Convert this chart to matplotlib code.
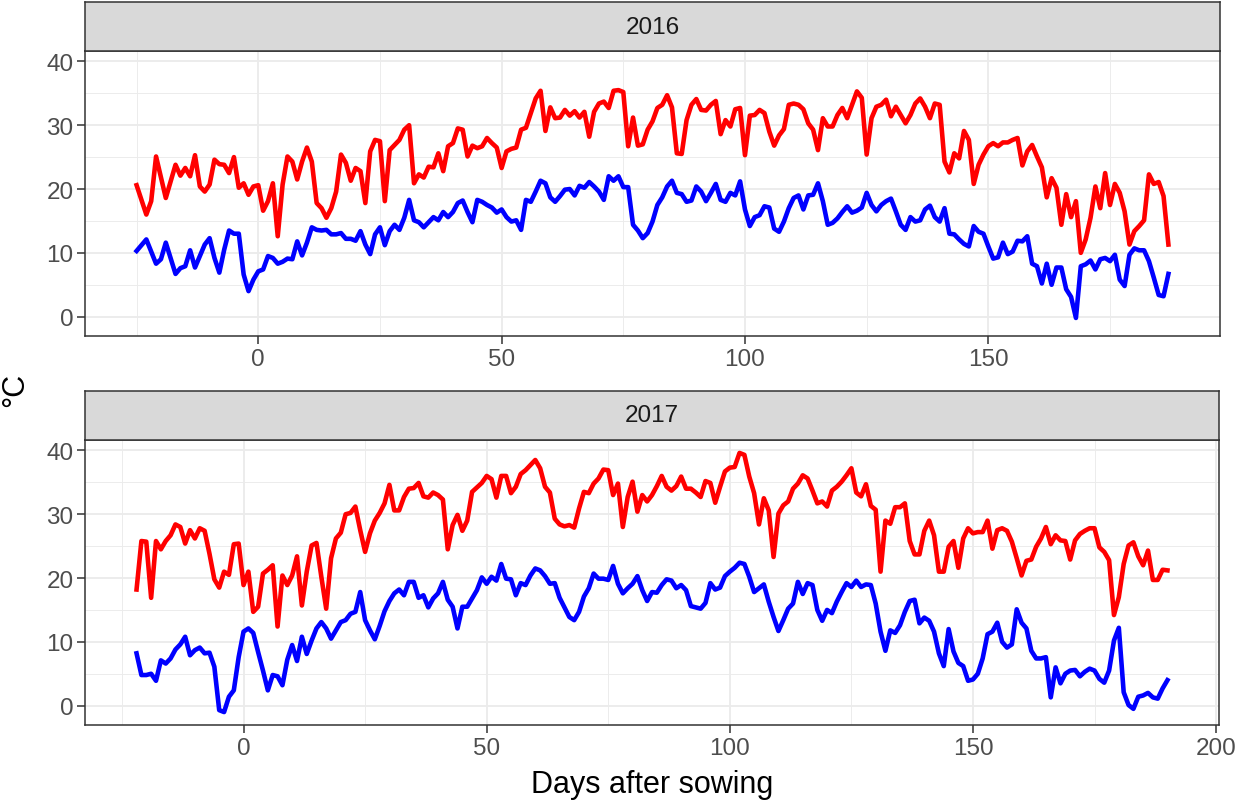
import matplotlib
matplotlib.use("Agg")
import matplotlib.pyplot as plt
from matplotlib.ticker import MultipleLocator

plt.rcParams['font.family'] = ['Liberation Sans', 'DejaVu Sans']

# 2016 season: days after sowing, daily max (red) and min (blue) temperature
days16_max = [-25, -23, -22, -21, -19, -17, -16, -15, -14, -13, -12, -11, -10, -9, -8, -7, -6, -5, -4, -3,
              -2, -1, 0, 1, 2, 3, 4, 5, 6, 7, 8, 9, 10, 11, 12, 13, 14, 15, 16, 17, 18, 19, 20, 21, 22, 23,
              24, 25, 26, 27, 28, 29, 30, 31, 32, 33, 34, 35, 36, 37, 38, 39, 40, 41, 42, 43, 44, 45, 46,
              47, 48, 49, 50, 51, 52, 53, 54, 55, 56, 57, 58, 59, 60, 61, 62, 63, 64, 65, 66, 67, 68, 69,
              70, 71, 72, 73, 74, 75, 76, 77, 78, 79, 80, 81, 82, 83, 84, 85, 86, 87, 88, 89, 90, 91, 92,
              93, 94, 95, 96, 97, 98, 99, 100, 101, 102, 103, 104, 105, 106, 107, 108, 109, 110, 111, 112,
              113, 114, 115, 116, 117, 118, 119, 120, 121, 122, 123, 124, 125, 126, 127, 128, 129, 130,
              131, 132, 133, 134, 135, 136, 137, 138, 139, 140, 141, 142, 143, 144, 145, 146, 147, 148,
              149, 150, 151, 152, 153, 154, 155, 156, 157, 158, 159, 160, 161, 162, 163, 164, 165, 166,
              167, 168, 169, 170, 171, 172, 173, 174, 175, 176, 177, 178, 179, 180, 181, 182, 183, 184,
              185, 186, 187]
tmax16 = [20.6, 16.0, 18.1, 25.1, 18.6, 23.8, 22.1, 23.3, 22.0, 25.3, 20.4, 19.6, 20.7, 24.6, 23.9, 23.8,
          22.5, 25.0, 20.2, 20.9, 19.1, 20.4, 20.6, 16.6, 18.1, 20.9, 12.6, 20.7, 25.1, 24.3, 21.5, 24.3,
          26.5, 24.3, 17.8, 17.0, 15.5, 17.0, 19.6, 25.4, 24.1, 21.3, 23.3, 22.8, 17.8, 25.9, 27.7, 27.5,
          18.1, 26.1, 26.9, 27.7, 29.3, 30.0, 20.9, 22.3, 21.8, 23.5, 23.4, 25.6, 22.8, 26.7, 27.2, 29.5,
          29.3, 25.1, 26.8, 26.4, 26.7, 28.0, 27.2, 26.5, 23.3, 25.9, 26.3, 26.5, 29.3, 29.6, 31.9, 34.2,
          35.4, 29.1, 32.8, 31.1, 31.2, 32.4, 31.5, 32.2, 31.2, 32.1, 28.2, 32.1, 33.4, 33.7, 32.7, 35.4,
          35.5, 35.2, 26.7, 31.2, 26.8, 27.0, 29.3, 30.6, 32.7, 33.2, 34.7, 32.8, 25.6, 25.5, 30.8, 33.2,
          34.1, 32.4, 32.3, 33.2, 33.8, 28.6, 30.8, 29.8, 32.5, 32.7, 25.3, 31.5, 31.6, 32.4, 31.9, 29.0,
          26.8, 28.4, 29.4, 33.2, 33.4, 33.2, 32.5, 30.3, 29.3, 26.1, 31.1, 29.8, 29.8, 31.6, 32.7, 31.1,
          33.2, 35.3, 34.3, 25.4, 31.1, 32.9, 33.2, 34.0, 31.4, 32.9, 31.6, 30.3, 31.6, 33.4, 34.2, 32.9,
          31.1, 33.4, 33.2, 24.3, 22.6, 25.6, 24.8, 29.1, 27.7, 20.8, 23.8, 25.4, 26.7, 27.2, 26.7, 27.3,
          27.3, 27.7, 28.0, 23.7, 25.9, 26.9, 25.1, 23.4, 18.7, 21.7, 20.2, 14.4, 19.2, 15.6, 18.1, 10.0,
          12.1, 15.5, 20.4, 17.0, 22.5, 17.5, 20.8, 19.4, 16.5, 11.3, 13.4, 14.2, 15.1, 22.3, 20.8, 21.1,
          18.9, 11.3]

days16_min = [-25, -23, -21, -20, -19, -17, -16, -15, -14, -13, -12, -11, -10, -9, -8, -7, -6, -5, -4, -3,
              -2, -1, 0, 1, 2, 3, 4, 5, 6, 7, 8, 9, 10, 11, 12, 13, 14, 15, 16, 17, 18, 19, 20, 21, 22, 23,
              24, 25, 26, 27, 28, 29, 30, 31, 32, 33, 34, 35, 36, 37, 38, 39, 40, 41, 42, 43, 44, 45, 46,
              47, 48, 49, 50, 51, 52, 53, 54, 55, 56, 57, 58, 59, 60, 61, 62, 63, 64, 65, 66, 67, 68, 69,
              70, 71, 72, 73, 74, 75, 76, 77, 78, 79, 80, 81, 82, 83, 84, 85, 86, 87, 88, 89, 90, 91, 92,
              93, 94, 95, 96, 97, 98, 99, 100, 101, 102, 103, 104, 105, 106, 107, 108, 109, 110, 111, 112,
              113, 114, 115, 116, 117, 118, 119, 120, 121, 122, 123, 124, 125, 126, 127, 128, 129, 130,
              131, 132, 133, 134, 135, 136, 137, 138, 139, 140, 141, 142, 143, 144, 145, 146, 147, 148,
              149, 150, 151, 152, 153, 154, 155, 156, 157, 158, 159, 160, 161, 162, 163, 164, 165, 166,
              167, 168, 169, 170, 171, 172, 173, 174, 175, 176, 177, 178, 179, 180, 181, 182, 183, 184,
              185, 186, 187]
tmin16 = [10.3, 12.1, 8.3, 9.0, 11.6, 6.7, 7.6, 7.9, 10.4, 7.7, 9.5, 11.3, 12.3, 9.2, 6.9, 10.5, 13.5,
          13.0, 13.0, 6.6, 4.0, 5.8, 7.1, 7.4, 9.5, 9.2, 8.3, 8.6, 9.1, 9.0, 11.8, 9.6, 11.6, 14.0, 13.6,
          13.5, 13.6, 12.9, 12.9, 13.1, 12.2, 12.2, 11.9, 13.4, 11.3, 9.8, 12.9, 14.0, 11.2, 13.4, 14.4,
          13.6, 15.5, 18.3, 15.1, 14.8, 14.0, 14.8, 15.6, 15.1, 16.4, 15.6, 16.4, 17.8, 18.2, 16.4, 14.8,
          18.3, 18.0, 17.5, 17.1, 16.3, 16.8, 15.6, 14.9, 15.1, 13.6, 18.3, 18.0, 19.6, 21.3, 20.9, 18.7,
          18.0, 18.9, 19.9, 20.0, 19.0, 20.5, 20.2, 21.1, 20.4, 19.6, 18.3, 22.0, 21.3, 22.0, 20.3, 20.3,
          14.4, 13.5, 12.3, 13.1, 14.9, 17.5, 18.7, 20.4, 21.3, 19.4, 19.2, 18.0, 18.2, 20.4, 19.6, 18.1,
          19.4, 20.8, 18.3, 18.0, 19.4, 19.0, 21.2, 16.8, 14.2, 15.6, 15.9, 17.3, 17.1, 13.8, 13.3, 14.9,
          17.0, 18.6, 19.0, 16.8, 19.0, 19.1, 20.9, 18.1, 14.4, 14.7, 15.4, 16.4, 17.3, 16.3, 16.6, 17.1,
          19.4, 17.5, 16.5, 17.5, 18.1, 18.5, 16.5, 14.4, 13.6, 15.6, 14.9, 15.1, 16.8, 17.4, 15.6, 14.9,
          17.0, 13.0, 12.9, 12.1, 11.4, 11.0, 14.2, 13.3, 13.0, 11.0, 9.1, 9.3, 11.6, 9.8, 10.2, 11.9,
          11.8, 12.6, 8.3, 7.9, 5.2, 8.3, 5.0, 7.7, 7.7, 4.3, 3.1, -0.2, 7.9, 8.2, 8.8, 7.4, 9.0, 9.2, 8.7,
          9.7, 5.8, 4.8, 9.7, 10.7, 10.4, 10.4, 8.7, 6.1, 3.4, 3.2, 6.7]

# 2017 season
days17 = list(range(-22, 191))
tmax17 = [18.2, 25.8, 25.7, 16.9, 25.8, 24.5, 25.8, 26.7, 28.4, 28.0, 25.4, 27.5, 26.2, 27.8, 27.4, 23.8,
          19.8, 18.5, 21.0, 20.5, 25.3, 25.4, 18.9, 21.0, 14.7, 15.5, 20.7, 21.3, 22.0, 12.4, 20.4, 18.9,
          20.4, 23.4, 15.7, 21.0, 25.1, 25.5, 20.2, 15.2, 23.1, 26.2, 27.1, 30.0, 30.2, 31.2, 27.5, 24.1,
          27.0, 29.0, 30.2, 31.7, 34.6, 30.6, 30.6, 32.7, 34.0, 34.1, 34.9, 32.8, 32.6, 33.4, 33.0, 32.3,
          24.5, 28.3, 29.9, 27.4, 29.0, 33.5, 34.2, 34.9, 36.0, 35.5, 32.6, 36.0, 36.0, 33.3, 34.3, 36.3,
          36.9, 37.7, 38.5, 37.2, 34.3, 33.4, 29.3, 28.4, 28.1, 28.3, 27.9, 30.9, 33.5, 33.3, 34.8, 35.6,
          37.0, 36.9, 33.0, 34.8, 28.0, 32.7, 35.1, 30.4, 33.0, 32.0, 33.0, 34.4, 36.0, 34.3, 33.7, 34.4,
          35.9, 34.0, 34.0, 33.4, 32.7, 35.2, 34.9, 31.8, 34.3, 36.7, 37.3, 37.4, 39.6, 39.3, 35.9, 33.3,
          28.4, 32.5, 30.6, 23.3, 30.1, 31.4, 32.0, 34.0, 34.8, 36.1, 35.6, 33.7, 31.7, 32.0, 31.2, 33.7,
          34.3, 35.1, 36.1, 37.2, 33.4, 32.8, 34.7, 31.3, 30.7, 21.0, 29.0, 28.5, 31.1, 31.1, 31.7, 25.8,
          23.7, 23.7, 27.4, 29.0, 26.7, 21.0, 21.0, 24.9, 25.8, 21.6, 26.2, 27.8, 27.0, 27.2, 27.2, 29.0,
          24.6, 27.5, 27.8, 27.4, 25.7, 23.1, 20.4, 22.7, 22.9, 24.9, 26.2, 28.0, 25.3, 26.7, 25.9, 25.8,
          22.9, 25.9, 26.9, 27.4, 27.8, 27.8, 24.8, 24.1, 22.8, 14.2, 17.0, 22.2, 25.1, 25.6, 23.4, 22.0,
          24.3, 19.7, 19.7, 21.3, 21.2]
tmin17 = [8.2, 4.8, 4.8, 5.0, 3.9, 7.1, 6.6, 7.4, 8.8, 9.6, 10.8, 7.9, 8.7, 9.1, 8.2, 8.3, 6.1, -0.7, -1.0,
          1.4, 2.4, 7.6, 11.6, 12.1, 11.4, 8.4, 5.5, 2.4, 4.8, 4.6, 3.2, 7.2, 9.5, 7.0, 10.8, 8.1, 10.2, 12.1,
          13.1, 12.1, 10.5, 11.8, 13.1, 13.4, 14.4, 14.7, 17.8, 13.4, 11.8, 10.4, 12.5, 14.8, 16.4, 17.6,
          18.2, 17.3, 19.4, 19.4, 16.9, 17.3, 15.4, 16.8, 17.6, 19.4, 16.6, 15.5, 12.1, 15.5, 15.5, 16.8,
          18.1, 20.1, 19.1, 20.2, 19.6, 22.2, 19.9, 19.8, 17.3, 19.2, 18.9, 20.4, 21.5, 21.2, 20.3, 19.1,
          19.2, 16.9, 15.4, 13.9, 13.4, 14.7, 17.1, 18.4, 20.7, 19.9, 19.9, 19.7, 21.9, 19.1, 17.6, 18.4,
          19.1, 20.3, 18.1, 16.4, 17.8, 17.7, 18.9, 19.8, 19.6, 18.4, 18.9, 18.1, 15.6, 15.4, 15.2, 16.1,
          19.2, 18.2, 18.5, 20.3, 21.0, 21.6, 22.4, 22.2, 20.2, 17.8, 18.4, 19.0, 16.3, 13.9, 11.7, 13.4,
          15.2, 16.0, 19.4, 17.5, 19.2, 18.9, 15.0, 13.3, 15.0, 14.5, 16.3, 17.8, 19.2, 18.6, 19.6, 18.6,
          19.0, 18.9, 16.0, 11.6, 8.6, 11.8, 11.4, 12.6, 14.7, 16.4, 16.6, 12.9, 13.8, 13.3, 11.6, 8.2, 6.2,
          12.0, 8.5, 6.7, 6.2, 3.9, 4.1, 5.0, 7.4, 11.2, 11.6, 13.0, 10.0, 9.1, 9.6, 15.1, 13.0, 12.1, 8.6,
          7.4, 7.4, 7.6, 1.3, 6.0, 3.5, 5.0, 5.5, 5.6, 4.6, 5.3, 5.8, 5.5, 4.2, 3.6, 5.5, 10.2, 12.2, 2.1,
          0.1, -0.5, 1.4, 1.6, 2.0, 1.3, 1.1, 2.7, 4.0]

years = ["2016", "2017"]
panels = [(days16_max, tmax16, days16_min, tmin16), (days17, tmax17, days17, tmin17)]

W, H = 1241, 804
fig = plt.figure(figsize=(W / 100, H / 100), dpi=100)

dark = "#333333"
grid = "#EBEBEB"

# y range shared by both panels (ggplot-like 5% expansion)
all_t = tmax16 + tmin16 + tmax17 + tmin17
ylo, yhi = min(all_t), max(all_t)
ypad = 0.05 * (yhi - ylo)

# pixel boxes: (left, top, right, bottom) of panel and strip
boxes = [((85, 52, 1220, 337), (85, 3, 1220, 52)),
         ((85, 441, 1219, 726), (85, 392, 1219, 441))]

for (px, sx), year, (dmx, vmx, dmn, vmn) in zip(boxes, years, panels):
    l, t, r, b = px
    ax = fig.add_axes([l / W, 1 - b / H, (r - l) / W, (b - t) / H])
    ax.plot(dmx, vmx, color="red", lw=3.3, solid_joinstyle="round", zorder=3)
    ax.plot(dmn, vmn, color="blue", lw=3.3, solid_joinstyle="round", zorder=3)

    xs = dmx + dmn
    xpad = 0.05 * (max(xs) - min(xs))
    ax.set_xlim(min(xs) - xpad, max(xs) + xpad)
    ax.set_ylim(ylo - ypad, yhi + ypad)

    ax.xaxis.set_major_locator(MultipleLocator(50))
    ax.xaxis.set_minor_locator(MultipleLocator(25))
    ax.yaxis.set_major_locator(MultipleLocator(10))
    ax.yaxis.set_minor_locator(MultipleLocator(5))
    ax.grid(which="major", color=grid, lw=1.3, zorder=0)
    ax.grid(which="minor", color=grid, lw=0.65, zorder=0)
    ax.set_axisbelow(True)
    for s in ax.spines.values():
        s.set_color(dark)
        s.set_linewidth(1.1)
    ax.tick_params(which="major", length=5.8, width=1.1, color=dark,
                   labelsize=17.5, labelcolor="#4D4D4D", pad=2.5)
    ax.tick_params(which="minor", length=0)

    sl, st, sr, sb = sx
    sax = fig.add_axes([sl / W, 1 - sb / H, (sr - sl) / W, (sb - st) / H])
    sax.set_facecolor("#D9D9D9")
    sax.set_xticks([])
    sax.set_yticks([])
    for s in sax.spines.values():
        s.set_color(dark)
        s.set_linewidth(1.1)
    sax.text(0.5, 0.5, year, transform=sax.transAxes, ha="center", va="center",
             fontsize=17.5, color="#1A1A1A")

fig.text(15 / W, 1 - 390 / H, "°C", rotation=90, ha="center", va="center", fontsize=22)
fig.text(652 / W, 1 - 785 / H, "Days after sowing", ha="center", va="center", fontsize=22)

fig.savefig("out.png", dpi=100)
